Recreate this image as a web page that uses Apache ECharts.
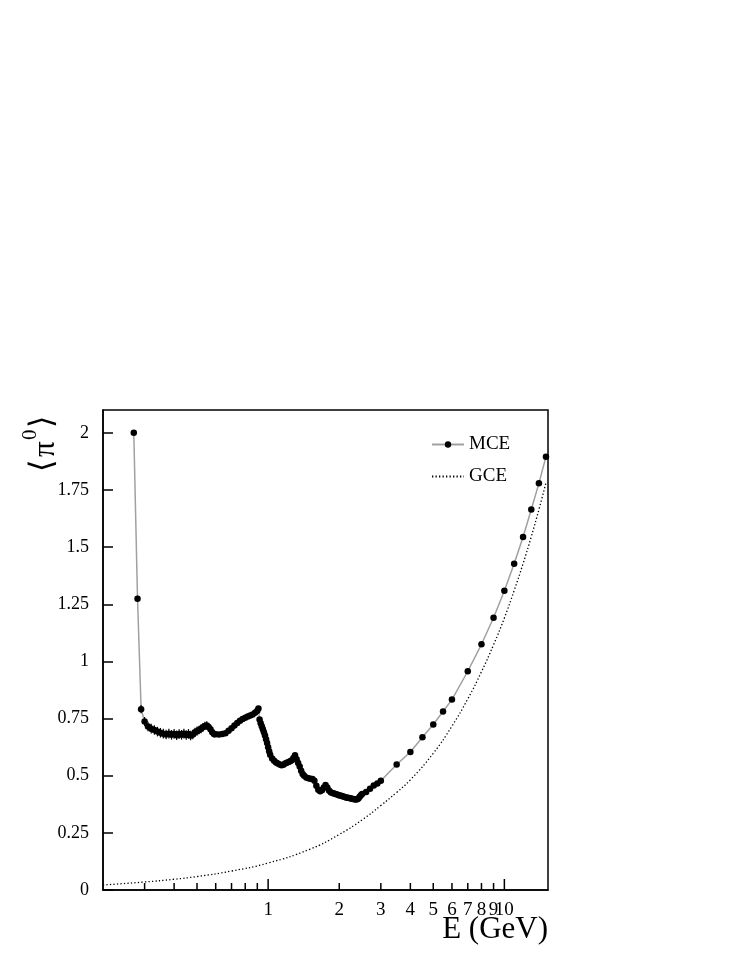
<!DOCTYPE html>
<html>
<head>
<meta charset="utf-8">
<script src="https://cdn.jsdelivr.net/npm/echarts@6/dist/echarts.min.js"></script>
<style>
  html, body { margin: 0; padding: 0; background: #fff; }
  #chart { width: 741px; height: 959px; }
</style>
</head>
<body>
<div id="chart"></div>
<script>
// MCE: energy (GeV) and mean pi0 multiplicity
const mceEnergy = [
  0.27, 0.28, 0.29, 0.30, 0.31, 0.32, 0.33, 0.34, 0.35, 0.36, 0.37, 0.38, 0.39, 0.40,
  0.41, 0.42, 0.43, 0.44, 0.45, 0.46, 0.47, 0.48, 0.49, 0.50, 0.51, 0.52, 0.53, 0.54,
  0.55, 0.56, 0.57, 0.58, 0.59, 0.60, 0.62, 0.64, 0.66, 0.68, 0.70, 0.72, 0.74, 0.76,
  0.78, 0.80, 0.82, 0.84, 0.86, 0.88, 0.90, 0.91, 0.92, 0.93, 0.94, 0.95, 0.96, 0.97,
  0.98, 0.99, 1.00, 1.01, 1.02, 1.04, 1.06, 1.08, 1.10, 1.12, 1.14, 1.16, 1.18, 1.20,
  1.22, 1.24, 1.26, 1.28, 1.30, 1.32, 1.34, 1.36, 1.38, 1.40, 1.42, 1.45, 1.48, 1.51,
  1.54, 1.57, 1.60, 1.63, 1.66, 1.69, 1.72, 1.75, 1.78, 1.81, 1.84, 1.87, 1.90, 1.93,
  1.96, 1.99, 2.02, 2.05, 2.08, 2.11, 2.14, 2.17, 2.20, 2.23, 2.26, 2.29, 2.32, 2.35,
  2.38, 2.41, 2.44, 2.47, 2.50, 2.6, 2.7, 2.8, 2.9,
  3.0, 3.5, 4.0, 4.5, 5.0, 5.5, 6, 7, 8, 9, 10, 11, 12, 13, 14, 15
];
const mceValue = [
  2.000, 1.274, 0.791, 0.737, 0.715, 0.706, 0.700, 0.693, 0.688, 0.684, 0.680, 0.684, 0.679, 0.683,
  0.677, 0.682, 0.679, 0.684, 0.678, 0.683, 0.676, 0.680, 0.690, 0.695, 0.700, 0.705, 0.712, 0.718,
  0.720, 0.713, 0.703, 0.690, 0.683, 0.681, 0.680, 0.682, 0.686, 0.697, 0.708, 0.720, 0.731, 0.740,
  0.748, 0.754, 0.759, 0.763, 0.768, 0.775, 0.784, 0.794, 0.746, 0.730, 0.716, 0.703, 0.690, 0.676,
  0.660, 0.643, 0.625, 0.607, 0.592, 0.575, 0.565, 0.558, 0.553, 0.549, 0.546, 0.548, 0.553, 0.557,
  0.560, 0.563, 0.568, 0.578, 0.590, 0.572, 0.556, 0.540, 0.522, 0.507, 0.500, 0.492, 0.489, 0.487,
  0.486, 0.478, 0.456, 0.439, 0.432, 0.436, 0.448, 0.459, 0.448, 0.435, 0.428, 0.424, 0.422, 0.420,
  0.418, 0.415, 0.413, 0.411, 0.409, 0.407, 0.405, 0.404, 0.402, 0.401, 0.399, 0.398, 0.397, 0.396,
  0.397, 0.400, 0.408, 0.415, 0.420, 0.429, 0.443, 0.457, 0.466,
  0.478, 0.549, 0.604, 0.668, 0.724, 0.781, 0.833, 0.957, 1.075, 1.191, 1.309, 1.427, 1.544, 1.665, 1.779, 1.896
];
// small statistical error bars, visible only on the lowest energies (0.28 - 0.59 GeV)
const mceError = [
  0, 0.014, 0.018, 0.020, 0.021, 0.021, 0.021, 0.021, 0.021, 0.021, 0.021, 0.021, 0.021, 0.021,
  0.021, 0.021, 0.021, 0.021, 0.021, 0.021, 0.021, 0.020, 0.020, 0.020, 0.019, 0.019, 0.019, 0.018,
  0.018, 0.018, 0.017, 0.017, 0.017
];

// GCE curve
const gceEnergy = [0.2, 0.3, 0.4, 0.5, 0.7, 1.0, 1.5, 2.0, 2.5, 3.0, 3.5, 4.0, 5.0, 6.0, 7.0, 8.0, 9.0, 10, 11, 12, 13, 14, 15];
const gceValue = [0.022, 0.035, 0.047, 0.059, 0.083, 0.118, 0.178, 0.243, 0.307, 0.370, 0.427, 0.482, 0.598, 0.717, 0.836, 0.955, 1.073, 1.190, 1.310, 1.428, 1.546, 1.664, 1.782];

// x axis ticks and their labels
const xTicks = [0.3, 0.4, 0.5, 0.6, 0.7, 0.8, 0.9, 1, 2, 3, 4, 5, 6, 7, 8, 9, 10];
const xTickLabels = ['', '', '', '', '', '', '', '1', '2', '3', '4', '5', '6', '7', '8', '9', '10'];
const xMajor = [1, 10];

const serif = '"Liberation Serif", "DejaVu Serif", serif';

const chart = echarts.init(document.getElementById('chart'));

chart.setOption({
  animation: false,
  backgroundColor: '#fff',
  grid: {
    left: 103, right: 193, top: 410, bottom: 69,
    show: true, borderColor: '#000', borderWidth: 1.5
  },
  legend: {
    data: ['MCE', { name: 'GCE', itemStyle: { opacity: 0 } }],
    orient: 'vertical',
    left: 426, top: 430,
    itemWidth: 32, itemHeight: 8, itemGap: 13,
    textStyle: { fontFamily: serif, fontSize: 19, color: '#000' }
  },
  xAxis: {
    type: 'log', logBase: 10, min: 0.2, max: 15.3,
    axisLine: { show: true, lineStyle: { color: '#000', width: 1.5 } },
    axisTick: { show: false },
    axisLabel: { show: false },
    splitLine: { show: false }
  },
  yAxis: {
    type: 'value', min: 0, max: 2.1, interval: 0.25,
    axisLine: { show: true, lineStyle: { color: '#000', width: 1.5 } },
    axisTick: { show: true, inside: true, length: 10, lineStyle: { color: '#000', width: 1.5 } },
    axisLabel: { showMaxLabel: false, margin: 14, fontFamily: serif, fontSize: 18, color: '#000' },
    splitLine: { show: false }
  },
  graphic: [
    {
      type: 'group', x: 44, y: 441, rotation: Math.PI / 2,
      children: [
        { type: 'text', x: -31, y: 0, style: { text: '⟨', font: '32px "DejaVu Serif"', fill: '#000', verticalAlign: 'middle' } },
        { type: 'text', x: -16, y: 2, style: { text: 'π', font: '31px "Liberation Serif"', fill: '#000', verticalAlign: 'middle' } },
        { type: 'text', x: 1, y: -14, style: { text: '0', font: '21px "Liberation Serif"', fill: '#000', verticalAlign: 'middle' } },
        { type: 'text', x: 13, y: 0, style: { text: '⟩', font: '32px "DejaVu Serif"', fill: '#000', verticalAlign: 'middle' } }
      ]
    },
    {
      type: 'text', right: 741 - 548, top: 914,
      style: { text: 'E (GeV)', font: '31px "Liberation Serif"', fill: '#000' }
    }
  ],
  series: [
    {
      name: 'MCE', type: 'line',
      data: mceEnergy.map((e, i) => [e, mceValue[i]]),
      symbol: 'circle', symbolSize: 6.5,
      itemStyle: { color: '#000' },
      lineStyle: { color: '#a0a0a0', width: 1.5 },
      z: 3
    },
    {
      // error bars
      type: 'custom',
      silent: true,
      data: mceError.map((err, i) => [mceEnergy[i], mceValue[i] - err, mceValue[i] + err]),
      renderItem: function (params, api) {
        const lo = api.coord([api.value(0), api.value(1)]);
        const hi = api.coord([api.value(0), api.value(2)]);
        return {
          type: 'line',
          shape: { x1: lo[0], y1: lo[1], x2: hi[0], y2: hi[1] },
          style: { stroke: '#000', lineWidth: 1.2 }
        };
      },
      z: 4
    },
    {
      name: 'GCE', type: 'line',
      data: gceEnergy.map((e, i) => [e, gceValue[i]]),
      smooth: true,
      showSymbol: false, symbol: 'none',
      itemStyle: { color: '#000' },
      lineStyle: { color: '#000', width: 1.3, type: [1.3, 2.2] },
      z: 2
    },
    {
      // x axis ticks and labels on the log scale
      type: 'custom',
      silent: true,
      data: xTicks.map(v => [v, 0]),
      renderItem: function (params, api) {
        const v = api.value(0);
        const p = api.coord([v, 0]);
        const len = xMajor.indexOf(v) >= 0 ? 11 : 7;
        return {
          type: 'group',
          children: [
            { type: 'line', shape: { x1: p[0], y1: p[1], x2: p[0], y2: p[1] - len }, style: { stroke: '#000', lineWidth: 1.5 } },
            { type: 'text', x: p[0], y: p[1] + 11, style: { text: xTickLabels[params.dataIndex], font: '19px "Liberation Serif"', fill: '#000', align: 'center', verticalAlign: 'top' } }
          ]
        };
      },
      z: 5
    }
  ]
});
</script>
</body>
</html>
